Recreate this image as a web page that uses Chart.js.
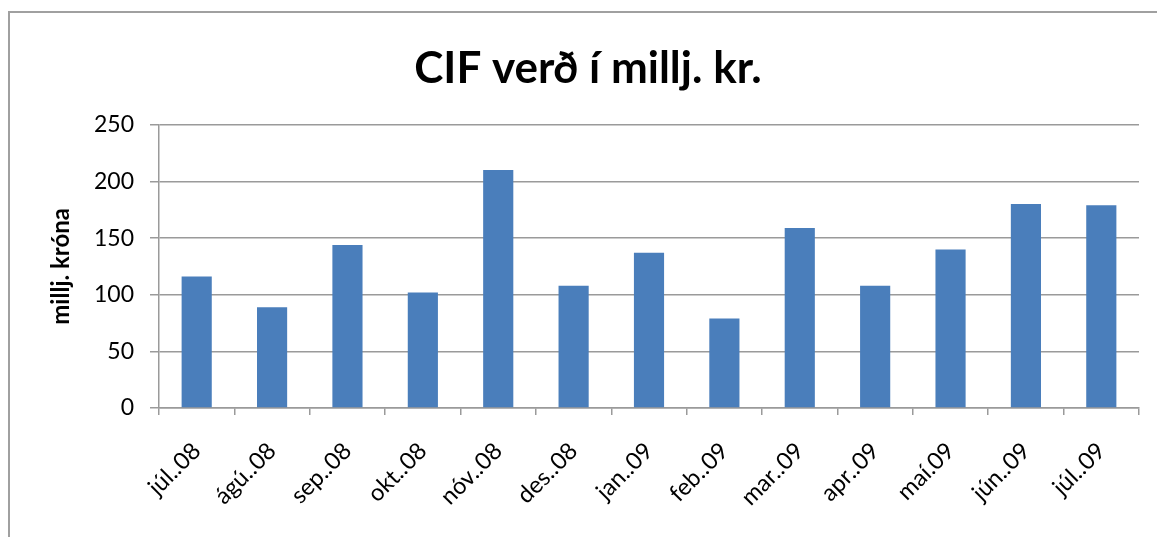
<!DOCTYPE html>
<html>
<head>
<meta charset="utf-8">
<script src="https://cdn.jsdelivr.net/npm/chart.js@4"></script>
<style>
  html, body { margin: 0; padding: 0; background: #fff; }
  #wrap { width: 1157px; height: 537px; }
</style>
</head>
<body>
<div id="wrap"><canvas id="cifChart" width="1157" height="537"></canvas></div>
<script>
const months = ["júl..08", "ágú..08", "sep..08", "okt..08", "nóv..08", "des..08", "jan..09",
  "feb..09", "mar..09", "apr..09", "maí.09", "jún..09", "júl..09"];
const cifValues = [116, 89, 144, 102, 210, 108, 137, 79, 159, 108, 140, 180, 179];
const yTicks = [0, 50, 100, 150, 200, 250];

const gridGray = "#9a9a9a";

const ctx = document.getElementById("cifChart").getContext("2d");

const cifChart = new Chart(ctx, {
  type: "bar",
  data: {
    labels: months,
    datasets: [
      {
        label: "CIF verð",
        data: cifValues,
        backgroundColor: "#4a7ebb",
        borderWidth: 0,
        barPercentage: 0.4,
        categoryPercentage: 1.0,
      },
    ],
  },
  options: {
    responsive: false,
    animation: false,
    layout: { padding: { left: 37, right: 18, top: 0, bottom: 0 } },
    scales: {
      x: {
        offset: true,
        grid: {
          offset: true,
          drawOnChartArea: false,
          drawTicks: true,
          tickLength: 7,
          color: gridGray,
          lineWidth: 1.5,
        },
        border: { color: gridGray, width: 1.5 },
        ticks: {
          color: "#000",
          font: { family: "Lato", size: 23.5 },
          maxRotation: 45,
          minRotation: 45,
          padding: 22,
          autoSkip: false,
        },
        afterFit: function (scale) {
          scale.height = 129;
        },
      },
      y: {
        min: 0,
        max: 250,
        afterBuildTicks: function (scale) {
          scale.ticks = yTicks.map((v) => ({ value: v }));
        },
        grid: {
          color: gridGray,
          lineWidth: 1.5,
          tickLength: 9,
        },
        border: { color: gridGray, width: 1.5 },
        ticks: {
          color: "#000",
          font: { family: "Lato", size: 23 },
          padding: 16,
        },
        title: {
          display: true,
          text: "millj. króna",
          color: "#000",
          font: { family: "Lato", size: 24, weight: "bold" },
          padding: { top: 10, bottom: 0 },
        },
        afterFit: function (scale) {
          scale.width = 122;
        },
      },
    },
    plugins: {
      legend: { display: false },
      tooltip: { enabled: false },
      title: {
        display: true,
        text: "CIF verð í millj. kr.",
        color: "#000",
        font: { family: "Lato", size: 44, weight: "bold" },
        padding: { top: 42, bottom: 30 },
      },
    },
  },
  plugins: [
    {
      id: "frame",
      beforeDraw: function (chart) {
        const c = chart.ctx;
        c.save();
        c.strokeStyle = "#a0a0a0";
        c.lineWidth = 2;
        c.beginPath();
        c.moveTo(9, chart.height);
        c.lineTo(9, 12);
        c.lineTo(chart.width, 12);
        c.stroke();
        c.restore();
      },
    },
  ],
});
</script>
</body>
</html>
